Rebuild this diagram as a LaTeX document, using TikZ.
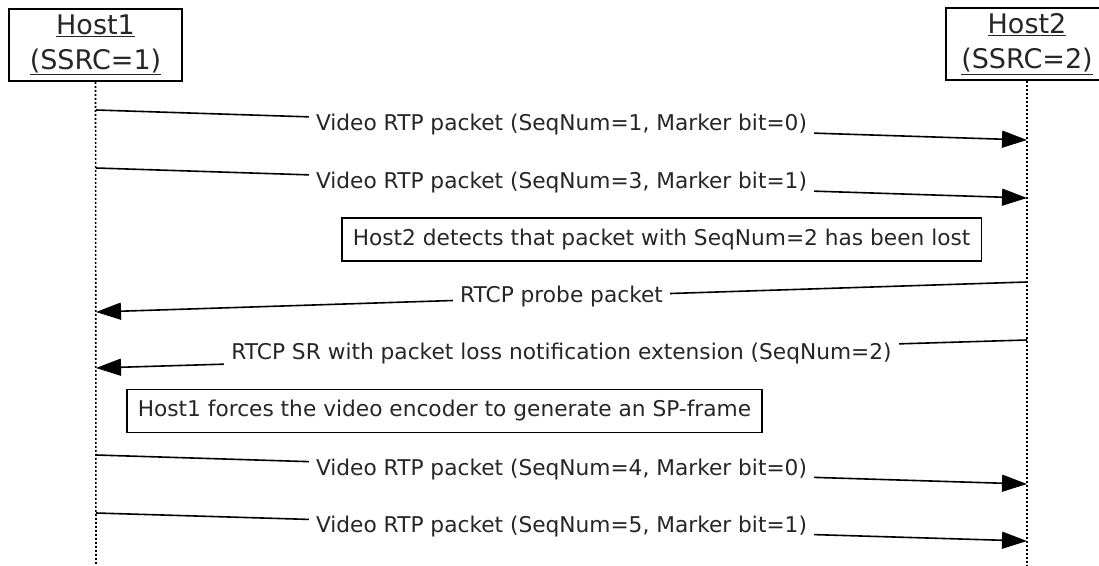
\documentclass[tikz,border=0pt]{standalone}
\usepackage{fontspec}
\setmainfont{DejaVu Sans}
\usetikzlibrary{arrows.meta}
\tikzset{
  head/.style={draw, line width=1.6pt, minimum width=173pt, minimum height=72pt,
    inner sep=0pt, align=center, font=\fontsize{27}{35}\selectfont, text=black!85},
  lifeline/.style={line width=1.6pt, dash pattern=on 2pt off 2pt},
  msg/.style={line width=1.6pt, -{Triangle[length=25pt,width=17pt]}},
  msglabel/.style={fill=white, inner xsep=7pt, inner ysep=2pt,
    font=\fontsize{21.7}{26}\selectfont, text=black!85},
  note/.style={draw, line width=1.6pt, anchor=west, inner xsep=11pt,
    minimum height=43pt, font=\fontsize{21.7}{26}\selectfont, text=black!85}
}
\begin{document}
\begin{tikzpicture}[x=1pt,y=-1pt]
  \useasboundingbox (0,0) rectangle (1099,565);
  % hosts
  \node[head] (host1) at (95.5,45) {\underline{Host1}\\\underline{(SSRC=1)}};
  \node[head, minimum width=162pt] (host2) at (1027,44) {\underline{Host2}\\\underline{(SSRC=2)}};
  \coordinate (bot1) at (96,565);
  \coordinate (bot2) at (1027,565);
  \draw[lifeline] (host1.south) -- (bot1);
  \draw[lifeline] (host2.south) -- (bot2);
  % end points on the lifelines
  \foreach \n/\ya/\yb in {1/110/140, 2/168/198, 5/455/484, 6/513/541}{
    \coordinate (s\n) at (96,\ya);
    \coordinate (e\n) at (1027,\yb);
  }
  \foreach \n/\ya/\yb in {3/282/312, 4/340/368}{
    \coordinate (s\n) at (1027,\ya);
    \coordinate (e\n) at (96,\yb);
  }
  % messages
  \draw[msg] (s1) -- node[msglabel] {Video RTP packet (SeqNum=1, Marker bit=0)} (e1);
  \draw[msg] (s2) -- node[msglabel] {Video RTP packet (SeqNum=3, Marker bit=1)} (e2);
  \node[note] (lost) at (341,239.5) {Host2 detects that packet with SeqNum=2 has been lost};
  \draw[msg] (s3) -- node[msglabel] {RTCP probe packet} (e3);
  \draw[msg] (s4) -- node[msglabel] {RTCP SR with packet loss notification extension (SeqNum=2)} (e4);
  \node[note] (force) at (126,411) {Host1 forces the video encoder to generate an SP-frame};
  \draw[msg] (s5) -- node[msglabel] {Video RTP packet (SeqNum=4, Marker bit=0)} (e5);
  \draw[msg] (s6) -- node[msglabel] {Video RTP packet (SeqNum=5, Marker bit=1)} (e6);
\end{tikzpicture}
\end{document}
